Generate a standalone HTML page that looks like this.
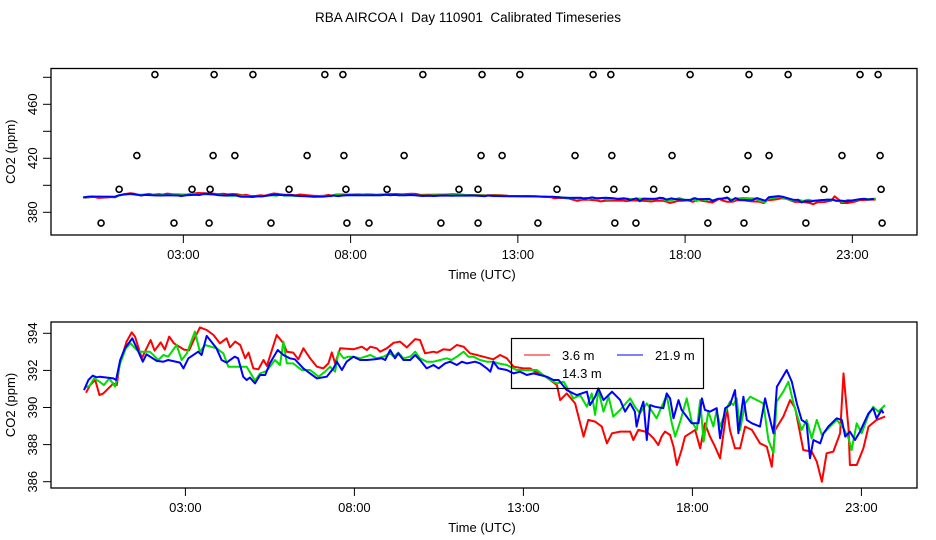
<!DOCTYPE html>
<html><head><meta charset="utf-8"><style>
html,body{margin:0;padding:0;background:#fff;}
svg{display:block;font-family:"Liberation Sans",sans-serif;}
</style></head><body>
<svg id="chart" width="936" height="540" viewBox="0 0 936 540" xmlns="http://www.w3.org/2000/svg">
<rect width="936" height="540" fill="#fff"/>
<text x="468" y="22" font-size="13.5" text-anchor="middle" xml:space="preserve">RBA AIRCOA I  Day 110901  Calibrated Timeseries</text>
<g id="topPanel"></g>
<g id="botPanel"></g>
</svg>
<script>
const xTickLabels = ["03:00","08:00","13:00","18:00","23:00"];
const xTickHours = [3,8,13,18,23];
const topYTicks = [380,400,420,440,460,480];
const topYLabels = ["380","","420","","460",""];
const botYTicks = [386,388,390,392,394];
const seriesNames = ["3.6 m","14.3 m","21.9 m"];
const seriesColors = ["#ff0000","#00dd00","#0000ff"];
const flagHours = [2.15,3.92,5.08,7.23,7.77,10.16,11.93,13.06,15.25,15.78,18.15,19.91,21.08,23.23,23.77,
1.61,3.89,4.54,6.70,7.80,9.60,11.90,12.53,14.71,15.81,17.61,19.88,20.51,22.69,23.83,
1.08,3.26,3.80,6.16,7.86,9.09,11.24,11.81,14.17,15.87,17.06,19.25,19.82,22.15,23.86,
0.54,2.72,3.77,5.62,7.89,8.55,10.70,11.81,13.60,15.90,16.53,18.68,19.76,21.61,23.89];
const flagValues = [482,482,482,482,482,482,482,482,482,482,482,482,482,482,482,
422,422,422,422,422,422,422,422,422,422,422,422,422,422,422,
397,397,397,397,397,397,397,397,397,397,397,397,397,397,397,
372,372,372,372,372,372,372,372,372,372,372,372,372,372,372];
const redH=[0.06,0.18,0.33,0.46,0.57,0.87,0.97,1.05,1.26,1.41,1.51,1.71,1.97,2.09,2.27,2.39,2.52,2.66,2.96,3.11,3.25,3.43,3.63,3.83,4.02,4.22,4.32,4.47,4.62,4.77,4.87,5.01,5.16,5.31,5.41,5.70,5.90,6.0,6.19,6.34,6.49,
6.69,6.89,7.08,7.23,7.33,7.43,7.58,7.97,8.22,8.37,8.47,8.66,8.76,8.96,9.16,9.35,9.55,9.8,9.94,10.09,10.34,10.44,10.63,10.83,11.03,11.23,11.42,11.62,11.87,12.11,12.31,12.51,12.71,13.0,13.2,13.35,13.59,13.79,13.99,14.09,14.28,14.53,14.78,14.92,15.12,15.32,15.47,15.62,
15.86,16.16,16.25,16.40,16.6,16.7,16.85,16.99,17.09,17.19,17.34,17.44,17.54,17.68,17.78,17.93,18.08,18.23,18.37,18.52,18.67,18.82,19.02,19.11,19.26,19.41,19.56,19.76,20.0,20.2,20.35,20.45,20.69,20.89,21.04,21.28,21.53,21.68,21.83,21.97,22.17,22.37,22.47,22.62,22.66,22.86,23.06,23.21,23.45,23.7];
const redV=[390.8,391.2,391.48,390.67,390.76,391.3,391.21,392.29,393.55,394.05,393.82,392.65,393.64,393.06,393.51,393.12,393.82,393.46,393.12,393.08,393.64,394.32,394.18,393.91,393.46,393.73,393.24,393.55,393.37,392.65,392.96,392.11,392.06,392.56,392.24,393.91,393.46,393.01,392.96,392.6,393.19,
392.65,392.2,392.11,392.38,392.97,392.38,393.19,393.14,393.28,393.1,393.28,393.19,393.01,393.19,393.49,393.55,393.24,393.69,393.64,392.92,393.01,392.96,393.14,393.1,393.37,393.28,392.92,392.83,392.71,392.6,392.83,392.65,392.2,392.11,392.11,391.93,391.75,391.48,391.21,390.4,390.76,390.22,388.43,389.33,389.24,388.97,388.07,388.61,
388.7,388.7,388.25,388.79,388.7,388.61,388.34,387.98,388.43,388.7,388.52,387.89,386.9,387.71,388.43,388.61,388.79,387.8,389.15,388.43,387.89,387.26,389.96,388.79,387.8,387.8,388.97,388.79,388.07,387.89,386.81,388.79,389.51,390.4,389.96,387.71,387.62,387.08,386.0,387.53,387.62,388.61,391.84,388.79,386.9,386.9,387.8,388.97,389.33,389.51];
const greenH=[0.03,0.16,0.3,0.46,0.59,0.75,0.92,1.07,1.24,1.38,1.56,1.66,1.95,2.2,2.35,2.49,2.74,2.89,3.04,3.28,3.43,3.58,3.92,4.12,4.27,4.46,4.81,5.06,5.21,5.40,5.65,5.80,5.90,6.0,6.19,6.44,
6.69,6.94,7.13,7.28,7.43,7.53,7.68,7.82,7.97,8.17,8.47,8.66,8.86,9.06,9.16,9.3,9.45,9.65,9.8,9.94,10.14,10.34,10.54,10.73,10.88,11.03,11.23,11.37,11.52,11.72,11.92,12.11,12.26,12.51,12.8,13.1,13.4,13.59,13.79,13.99,14.19,14.28,14.48,14.68,14.88,15.02,15.12,15.22,15.37,15.52,15.66,
15.86,16.16,16.3,16.45,16.65,16.94,17.24,17.39,17.49,17.64,17.83,17.98,18.13,18.23,18.33,18.47,18.62,18.72,18.82,19.02,19.11,19.21,19.31,19.41,19.56,19.71,20.1,20.25,20.4,20.49,20.69,20.84,20.99,21.23,21.38,21.53,21.68,21.83,22.07,22.27,22.47,22.62,22.71,22.86,23.01,23.21,23.35,23.5,23.7];
const greenV=[391.09,391.16,391.57,391.39,391.21,391.57,391.12,392.38,393.19,393.46,393.1,393.01,393.01,392.56,392.83,392.74,393.37,392.56,392.92,394.09,393.01,393.37,393.19,392.92,392.2,392.2,392.2,391.45,391.84,391.97,392.56,392.29,393.55,392.38,392.38,392.02,
392.02,391.66,391.93,392.2,391.93,393.01,392.65,392.74,392.74,392.65,392.83,392.65,392.74,392.92,392.74,392.96,392.65,392.74,393.01,392.65,392.47,392.47,392.56,392.65,392.56,392.74,393.01,392.74,392.74,392.56,392.47,392.47,392.38,392.29,392.02,392.02,392.02,391.75,391.48,391.3,391.39,391.12,390.49,390.67,390.04,390.76,389.6,390.94,389.78,390.58,389.51,
389.87,390.49,390.04,389.69,390.22,389.42,390.67,389.15,388.43,389.24,390.49,389.24,388.79,390.4,388.16,389.78,388.97,389.87,388.97,389.96,390.31,390.13,390.49,388.79,390.22,390.58,390.22,388.25,387.53,390.31,390.85,391.39,390.22,388.79,389.33,388.34,389.33,388.52,388.97,389.33,388.88,388.34,387.71,389.15,388.61,389.6,390.04,389.78,390.13];
const blueH=[0,0.13,0.26,0.37,0.47,0.87,0.95,1.07,1.21,1.43,1.61,1.74,1.85,2.15,2.35,2.49,2.84,2.94,3.09,3.38,3.48,3.63,3.92,4.07,4.22,4.46,4.56,4.71,4.81,4.91,5.06,5.21,5.36,5.5,5.73,5.90,6.09,6.24,6.49,
6.69,6.89,7.18,7.38,7.48,7.63,7.77,7.97,8.17,8.37,8.61,8.81,8.91,9.06,9.2,9.3,9.45,9.65,9.8,9.94,10.14,10.34,10.49,10.68,10.83,11.03,11.18,11.33,11.57,11.72,11.92,12.02,12.11,12.26,12.51,12.71,12.9,13.1,13.3,13.49,13.69,13.89,14.04,14.28,14.58,14.88,14.97,15.12,15.22,15.37,15.62,
15.86,16.01,16.16,16.3,16.35,16.45,16.55,16.65,16.75,16.9,17.14,17.24,17.34,17.44,17.59,17.68,17.83,17.98,18.18,18.28,18.37,18.52,18.72,18.82,18.97,19.11,19.26,19.36,19.51,19.61,19.76,20.0,20.15,20.3,20.4,20.5,20.59,20.79,20.94,21.09,21.23,21.38,21.48,21.58,21.78,21.88,22.02,22.27,22.42,22.52,22.66,22.81,22.96,23.21,23.35,23.45,23.6,23.65];
const blueV=[390.94,391.48,391.72,391.63,391.66,391.57,391.48,392.56,393.19,393.73,393.01,392.47,392.87,392.51,392.47,392.56,392.42,392.11,392.65,393.01,392.83,393.86,393.19,392.56,392.42,392.74,392.65,391.66,391.48,391.61,391.30,391.75,391.75,392.38,393.10,392.83,392.65,392.6,392.11,
391.84,391.57,391.66,392.11,392.47,392.02,392.47,392.74,392.56,392.56,392.6,392.65,392.56,393.1,392.65,392.92,392.56,392.56,392.83,392.56,392.11,392.29,392.11,392.38,392.47,392.29,392.47,392.38,392.47,392.38,392.11,391.93,392.47,392.11,392.02,391.84,391.93,391.75,391.84,391.75,391.66,391.48,391.48,390.94,390.67,390.85,390.13,390.58,391.03,390.4,390.85,
390.41,389.78,390.22,389.78,388.97,389.78,390.31,388.25,390.13,390.04,389.96,390.76,390.49,389.42,390.4,389.87,389.51,389.15,389.15,390.49,389.87,389.78,389.96,388.34,389.96,390.13,390.94,388.61,390.58,389.33,389.15,388.97,390.49,389.33,388.61,391.12,391.39,392.02,391.39,390.22,389.33,389.15,387.26,388.25,388.07,388.61,388.97,389.42,389.33,388.43,388.7,388.25,388.7,389.69,389.96,389.42,389.87,389.69];

const NS="http://www.w3.org/2000/svg";
function mk(parent,tag,attrs){const e=document.createElementNS(NS,tag);for(const k in attrs)e.setAttribute(k,attrs[k]);parent.appendChild(e);return e;}
const seriesH=[redH,greenH,blueH], seriesV=[redV,greenV,blueV];

function panel(g,cfg){
  const xs=h=>cfg.x0+h*cfg.xph;
  const ys=v=>cfg.yRef-(v-cfg.vRef)*cfg.ypv;
  [0,1,2].forEach(i=>{
    const pts=seriesH[i].map((h,j)=>xs(h).toFixed(1)+","+ys(seriesV[i][j]).toFixed(1)).join(" ");
    const pl=mk(g,"polyline",{points:pts,fill:"none",stroke:seriesColors[i],"stroke-width":2,"stroke-linejoin":"round"});
    
    
  });
  const bx=mk(g,"rect",{x:cfg.L,y:cfg.T,width:cfg.R-cfg.L,height:cfg.B-cfg.T,fill:"none",stroke:"#000","stroke-width":1.3});
  
  
  xTickHours.forEach((h,i)=>{
    const x=xs(h);
    const t=mk(g,"line",{x1:x,x2:x,y1:cfg.B,y2:cfg.B+8,stroke:"#000","stroke-width":1});
    
    
    const tx=mk(g,"text",{x:x,y:cfg.B+24,"font-size":13,"text-anchor":"middle"});
    tx.textContent=xTickLabels[i];
    
    
  });
  const xl=mk(g,"text",{x:(cfg.L+cfg.R)/2-2,y:cfg.B+44,"font-size":13,"text-anchor":"middle"});
  xl.textContent="Time (UTC)";
  
  
  cfg.yTicks.forEach((v,i)=>{
    const y=ys(v);
    const t=mk(g,"line",{x1:cfg.L-8,x2:cfg.L,y1:y,y2:y,stroke:"#000","stroke-width":1});
    
    
    if(cfg.yLabels[i]){
      const tx=mk(g,"text",{x:0,y:0,"font-size":13,"text-anchor":"middle",transform:`translate(${cfg.L-14},${y}) rotate(-90)`});
      tx.textContent=cfg.yLabels[i];
      
      
    }
  });
  const yl=mk(g,"text",{x:0,y:0,"font-size":13,"text-anchor":"middle",transform:`translate(15,${(cfg.T+cfg.B)/2}) rotate(-90)`});
  yl.textContent="CO2 (ppm)";
  
  
  return {xs,ys};
}

const topG=document.getElementById("topPanel");
const tp=panel(topG,{L:51,R:917,T:68.5,B:235,x0:83,xph:33.45,yRef:212.3,vRef:380,ypv:1.35,yTicks:topYTicks,yLabels:topYLabels});
flagHours.forEach((h,i)=>{
  const c=mk(topG,"circle",{cx:tp.xs(h),cy:tp.ys(flagValues[i]),r:3,fill:"none",stroke:"#000","stroke-width":1.6});
  
  
});

const botG=document.getElementById("botPanel");
panel(botG,{L:51,R:917,T:322,B:488,x0:84,xph:33.8,yRef:333.3,vRef:394,ypv:18.55,yTicks:botYTicks,yLabels:botYTicks.map(String)});

const lg=mk(botG,"g",{});


mk(lg,"rect",{x:511.5,y:338.5,width:192,height:50,fill:"none",stroke:"#000","stroke-width":1.2});
const legPos=[[524,355],[524,373],[617,355]];
[0,1,2].forEach(i=>{
  const [x,y]=legPos[i];
  if(i!==1){
    const l=mk(lg,"line",{x1:x,x2:x+26,y1:y,y2:y,stroke:seriesColors[i],"stroke-width":1});
    
    
  }
  const t=mk(lg,"text",{x:x+38,y:y+5,"font-size":13});
  t.textContent=seriesNames[i];
  
  
});
</script>
</body></html>
